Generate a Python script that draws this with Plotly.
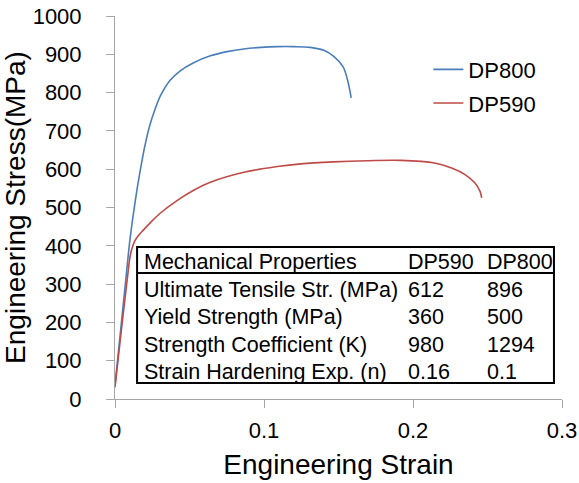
import plotly.graph_objects as go

# ---- data ----
dp800_strain = [0, 0.004, 0.007, 0.010, 0.0135, 0.017, 0.020, 0.0236, 0.027, 0.0303, 0.037, 0.0438,
                0.0528, 0.064, 0.0753, 0.0865, 0.098, 0.109, 0.120, 0.131, 0.1405, 0.147, 0.153,
                0.156, 0.1585]
dp800_stress = [37, 188, 302, 415, 515, 598, 660, 718, 758, 790, 832, 857,
                878, 896, 907, 914, 918, 920, 920, 918, 910, 894, 868,
                834, 786]

dp590_strain = [0, 0.0034, 0.0067, 0.0085, 0.0101, 0.0118, 0.0135, 0.016, 0.019, 0.0236, 0.0303,
                0.0416, 0.0528, 0.064, 0.0865, 0.109, 0.1247, 0.1465, 0.1697, 0.192, 0.2146,
                0.2259, 0.2349, 0.2416, 0.245, 0.2461]
dp590_stress = [30, 150, 262, 322, 372, 398, 414, 428, 441, 460, 485,
                518, 545, 566, 592, 607, 614, 619, 622, 623, 616,
                603, 586, 564, 542, 525]

x_tickvals = [0, 0.1, 0.2, 0.3]
x_ticktext = ["0", "0.1", "0.2", "0.3"]
y_tickvals = [0, 100, 200, 300, 400, 500, 600, 700, 800, 900, 1000]

table_header = ["Mechanical Properties", "DP590", "DP800"]
table_props = ["Ultimate Tensile Str. (MPa)", "Yield Strength (MPa)",
               "Strength Coefficient (K)", "Strain Hardening Exp. (n)"]
table_dp590 = ["612", "360", "980", "0.16"]
table_dp800 = ["896", "500", "1294", "0.1"]

FONT = "Liberation Sans, Arial, sans-serif"
AXIS_GREY = "#A6A6A6"

fig = go.Figure()
fig.add_trace(go.Scatter(x=dp800_strain, y=dp800_stress, mode="lines", name="DP800",
                         legendgroup="a",
                         line=dict(color="#4A7EBB", width=1.6, shape="spline", smoothing=1.0)))
fig.add_trace(go.Scatter(x=dp590_strain, y=dp590_stress, mode="lines", name="DP590",
                         legendgroup="b",
                         line=dict(color="#BE4B48", width=1.6, shape="spline", smoothing=1.0)))

# ---- table (text annotations + border shapes) ----
annotations = []
col_x = [0.0607, 0.652, 0.827]
row_y = [0.358, 0.285, 0.214, 0.141, 0.0705]
TFONT = dict(family=FONT, size=21.5, color="black")
for j, t in enumerate(table_header):
    annotations.append(dict(x=col_x[j], y=row_y[0], xref="paper", yref="paper", text=t,
                            showarrow=False, xanchor="left", yanchor="middle", font=TFONT))
for i in range(len(table_props)):
    for j, t in enumerate([table_props[i], table_dp590[i], table_dp800[i]]):
        annotations.append(dict(x=col_x[j], y=row_y[i + 1], xref="paper", yref="paper", text=t,
                                showarrow=False, xanchor="left", yanchor="middle", font=TFONT))

shapes = [
    dict(type="rect", xref="paper", yref="paper", x0=0.0494, x1=0.982, y0=0.0418, y1=0.397,
         line=dict(color="black", width=2), fillcolor="white", layer="above"),
    dict(type="line", xref="paper", yref="paper", x0=0.0494, x1=0.982, y0=0.329, y1=0.329,
         line=dict(color="black", width=2)),
]

fig.update_layout(
    width=579, height=483,
    margin=dict(l=115, r=17, t=16, b=84, autoexpand=False),
    paper_bgcolor="white", plot_bgcolor="white",
    font=dict(family=FONT, color="black"),
    showlegend=True,
    legend=dict(x=0.701, y=0.915, xanchor="left", yanchor="top",
                font=dict(family=FONT, size=22, color="black"),
                bgcolor="rgba(0,0,0,0)", tracegroupgap=2, itemwidth=30),
    xaxis=dict(range=[0, 0.3], tickvals=x_tickvals, ticktext=x_ticktext, automargin=False,
               ticks="outside", ticklen=8, tickcolor=AXIS_GREY, tickwidth=1,
               showline=True, linecolor=AXIS_GREY, linewidth=1,
               showgrid=False, zeroline=False,
               tickfont=dict(family=FONT, size=22, color="black"), ticklabelstandoff=4,
               title=dict(text="Engineering Strain", font=dict(family=FONT, size=28, color="black"),
                          standoff=11)),
    xaxis2=dict(range=[0, 0.3], overlaying="x", matches="x", anchor="y", side="bottom",
                tick0=0, dtick=0.01, ticks="inside", ticklen=6, tickcolor=AXIS_GREY,
                showticklabels=False, showline=False, showgrid=False, zeroline=False),
    yaxis=dict(range=[0, 1000], tickvals=y_tickvals, automargin=False,
               ticks="outside", ticklen=8, tickcolor=AXIS_GREY, tickwidth=1,
               showline=True, linecolor=AXIS_GREY, linewidth=1,
               showgrid=False, zeroline=False,
               tickfont=dict(family=FONT, size=22, color="black"), ticklabelstandoff=20,
               title=dict(text="Engineering Stress(MPa)", font=dict(family=FONT, size=28, color="black"),
                          standoff=6)),
    annotations=annotations,
    shapes=shapes,
)

fig.write_html("out.html")
